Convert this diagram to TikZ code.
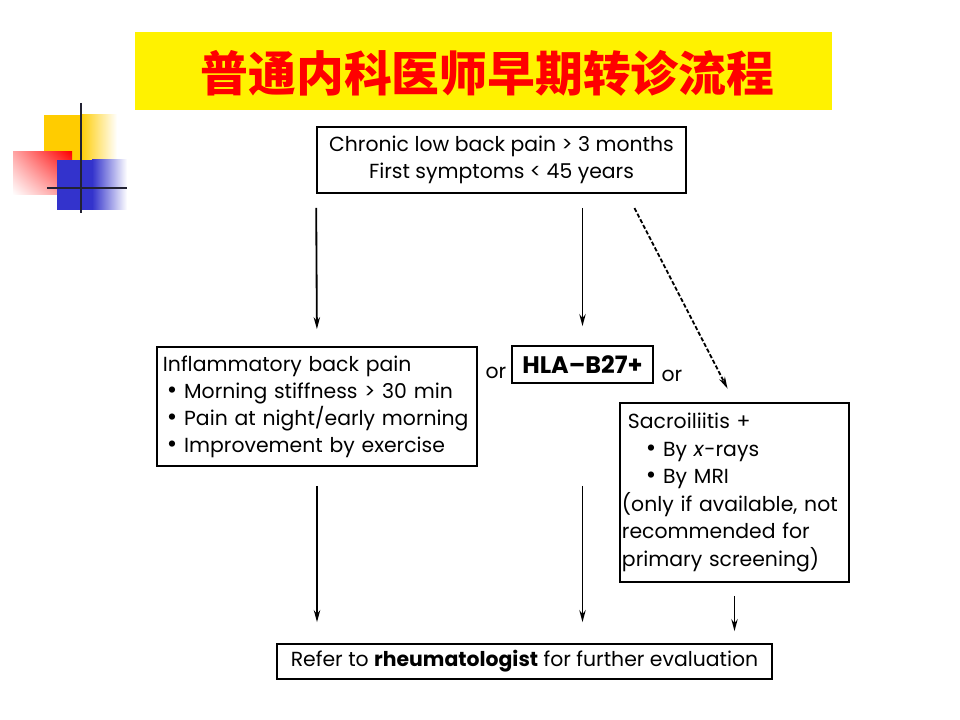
\documentclass[tikz,border=0pt]{standalone}
\usepackage{fontspec}
\setmainfont{Poppins}
\newfontfamily\cjk{Noto Sans CJK SC}
\usetikzlibrary{arrows.meta,shadings}
\definecolor{amarillo}{RGB}{255,204,0}
\definecolor{azul}{RGB}{51,51,204}
\definecolor{rojo}{RGB}{255,0,0}
\definecolor{linea}{RGB}{34,34,51}
\newcommand{\punto}{{\fontsize{18}{18}\selectfont •}}
\hyphenpenalty=10000
\begin{document}
\begin{tikzpicture}[x=0.025cm, y=-0.025cm,
  caja/.style={draw, line width=1.2pt, inner sep=0pt, font=\fontsize{14.5}{19.2}\selectfont},
  texto/.style={inner sep=0pt, font=\fontsize{14.5}{19.2}\selectfont},
  flecha/.style={-{Stealth[length=8.5pt,width=4.5pt]}, line width=1.3pt}]
\useasboundingbox (0,0) rectangle (960,720);
\fill[white] (0,0) rectangle (960,720);
\fill[yellow] (135,32) rectangle (832,110);
\draw (487.5,73) node[font=\cjk\bfseries\fontsize{34}{34}\selectfont, text=rojo] (titulo) {普通内科医师早期转诊流程};
\fill[amarillo] (44,115) rectangle (80,175);
\shade[left color=amarillo, right color=white] (80,115) rectangle (117,175);
\shade[upper right=rojo, upper left=rojo!35, lower right=rojo!45, lower left=white] (13,152) rectangle (72,195);
\fill[azul] (57,160) rectangle (92,210);
\shade[left color=azul, right color=white] (92,160) rectangle (127,210);
\draw[linea, line width=2pt] (81,103) -- (81,213);
\draw[linea, line width=2pt] (47,188) -- (127,188);
\draw (501.5,160) node[caja, minimum width=9.225cm, minimum height=1.65cm, align=center] (cronico) {Chronic low back pain > 3 months\\First symptoms < 45 years};
\draw (317,406.5) node[caja, minimum width=8cm, minimum height=2.975cm, text width=7.7cm, align=left] (inflam) {Inflammatory back pain\\\hspace*{0.1cm}\punto{} Morning stiffness > 30 min\\\hspace*{0.1cm}\punto{} Pain at night/early morning\\\hspace*{0.1cm}\punto{} Improvement by exercise};
\draw (496,373) node[texto] (o1) {or};
\draw (582.5,364.5) node[caja, minimum width=3.525cm, minimum height=0.925cm, font=\fontsize{17}{19.2}\selectfont] (hla) {\textbf{HLA–B27+}};
\draw (672,376) node[texto] (o2) {or};
\draw (734.5,492.5) node[caja, minimum width=5.725cm, minimum height=4.475cm, text width=5.625cm, align=left, font=\fontsize{14.5}{19.6}\selectfont] (sacro) {\hspace*{0.15cm}Sacroiliitis +\\\hspace*{0.6cm}\punto{} By \textit{x}-rays\\\hspace*{0.6cm}\punto{} By MRI\\(only if available, not\\recommended for\\primary screening)};
\draw (524.5,661.5) node[caja, minimum width=12.375cm, minimum height=0.875cm] (reumato) {Refer to \textbf{rheumatologist} for further evaluation};
\draw[flecha, shorten <=0.35cm, shorten >=0.425cm] (cronico.south west) -- (inflam.north);
\draw[flecha, shorten <=0.35cm, shorten >=0.475cm] (cronico.south -| hla.north) -- (hla.north);
\draw[flecha, dash pattern=on 3pt off 1.5pt, shorten <=0.4cm, shorten >=0.38cm] ([xshift=3.14cm]cronico.south) -- (sacro.north);
\draw[flecha, shorten <=0.475cm, shorten >=0.525cm] (inflam.south) -- (inflam.south |- reumato.north);
\draw[flecha, shorten <=0.475cm, shorten >=0.525cm] (hla.south |- inflam.south) -- (hla.south |- reumato.north);
\draw[flecha, shorten <=0.325cm, shorten >=0.3cm] (sacro.south) -- (sacro.south |- reumato.north);
\end{tikzpicture}
\end{document}
